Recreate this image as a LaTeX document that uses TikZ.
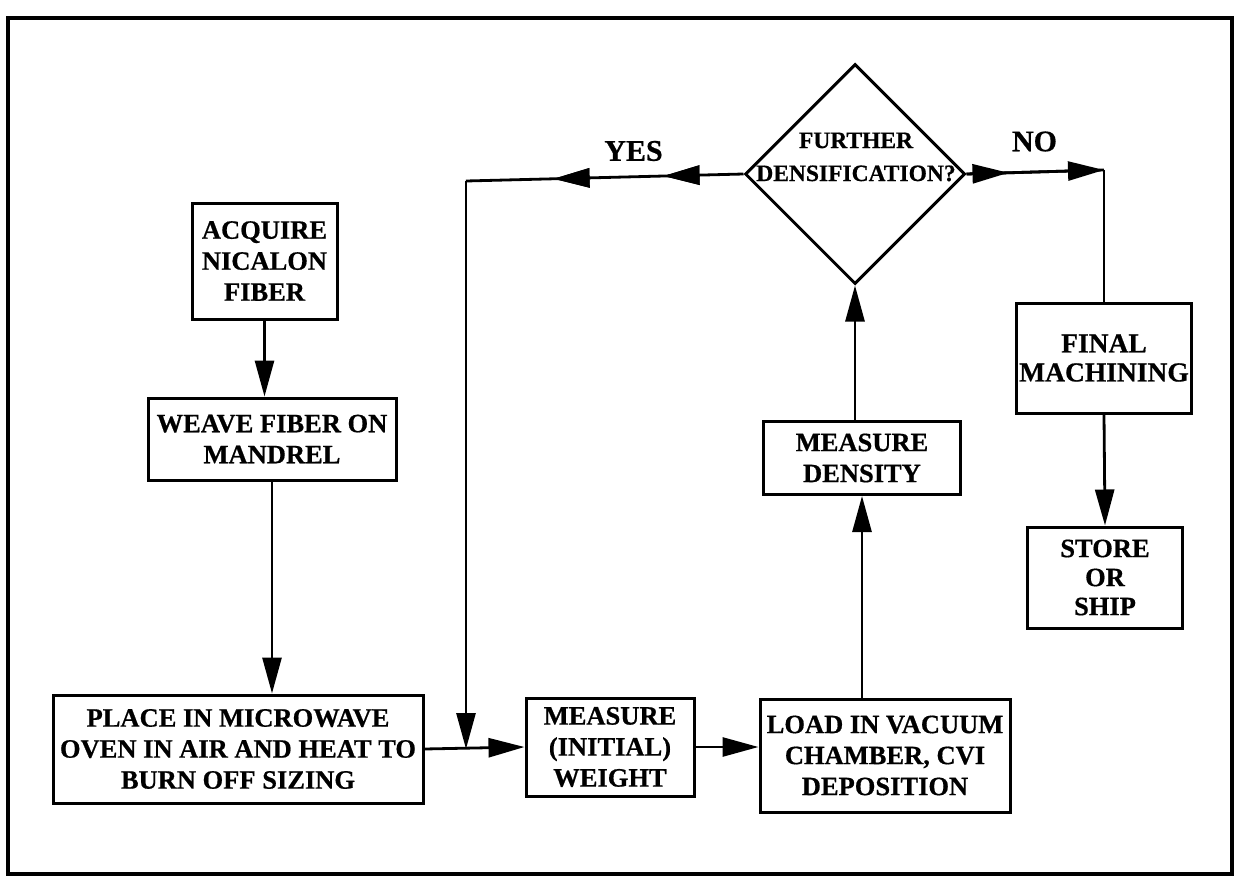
\documentclass[tikz,border=0pt]{standalone}
\usepackage{fontspec}
\setmainfont{Liberation Serif}[BoldFeatures={FakeBold=0.6}]
\usetikzlibrary{arrows.meta,shapes.geometric,decorations.markings}
\begin{document}
\begin{tikzpicture}[x=1pt,y=-1pt,
  stepbox/.style={draw,line width=3pt,inner sep=0pt,align=center,
    font=\bfseries\fontsize{26.5}{31}\selectfont},
  arr/.style={line width=2.8pt,-{Triangle[length=36pt,width=19pt]}},
  conn/.style={line width=2.8pt},
  lbl/.style={font=\bfseries\fontsize{30}{34}\selectfont,inner sep=0pt},
  midarrow/.style={postaction={decorate},decoration={markings,
    mark=at position #1 with {\arrow{Triangle[length=36pt,width=19pt]}}}}
]
\useasboundingbox (0,0) rectangle (1235,886);
\draw[line width=3.2pt] (8,18) rectangle (1232,874);

\node[stepbox,minimum width=145pt,minimum height=116pt] (acq) at (264.5,261) {ACQUIRE\\NICALON\\FIBER};
\node[stepbox,minimum width=248pt,minimum height=82pt] (weave) at (272,439) {WEAVE FIBER ON\\MANDREL};
\node[stepbox,minimum width=370pt,minimum height=108pt] (place) at (238,749) {PLACE IN MICROWAVE\\OVEN IN AIR AND HEAT TO\\BURN OFF SIZING};
\node[stepbox,minimum width=168pt,minimum height=98pt] (meas) at (610,747) {MEASURE\\(INITIAL)\\WEIGHT};
\node[stepbox,minimum width=250pt,minimum height=113pt] (load) at (885,755.5) {LOAD IN VACUUM\\CHAMBER, CVI\\DEPOSITION};
\node[stepbox,minimum width=197pt,minimum height=73pt] (dens) at (862,458) {MEASURE\\DENSITY};
\node[draw,line width=3pt,diamond,minimum width=220pt,minimum height=220pt,inner sep=0pt] (dia) at (855,174) {};
\node[align=center,inner sep=0pt,font=\bfseries\fontsize{23.5}{33}\selectfont] (diatext) at (856,157) {FURTHER\\DENSIFICATION?};
\node[stepbox,minimum width=175pt,minimum height=110pt,font=\bfseries\fontsize{27.5}{29}\selectfont] (final) at (1104,358) {FINAL\\MACHINING};
\node[stepbox,minimum width=155pt,minimum height=101pt,font=\bfseries\fontsize{26.5}{29}\selectfont] (store) at (1105,577.5) {STORE\\OR\\SHIP};

\node[lbl] (yes) at (633.5,151) {YES};
\node[lbl] (no) at (1034.5,141.5) {NO};

\coordinate (ycorner) at (466,181);
\coordinate (ncorner) at (1104,170);
\coordinate (join) at (466,749);

\draw[arr] (acq.south) -- (weave.north -| acq.south);
\draw[arr] (weave.south) -- (place.north -| weave.south);
\draw[arr] (place.east) -- (meas.west);
\draw[arr] (meas.east) -- (load.west |- meas.east);
\draw[arr] (dens.south |- load.north) -- (dens.south);
\draw[arr] (dia.south |- dens.north) -- (dia.south);
\draw[conn,midarrow=80pt,midarrow=190pt] (dia.west) -- (ycorner);
\draw[arr] (ycorner) -- (join);
\draw[conn,midarrow=42pt] (dia.east) -- (ncorner);
\draw[arr] (dia.east) -- (ncorner);
\draw[conn] (ncorner) -- (final.north);
\draw[arr] (final.south) -- (store.north);
\end{tikzpicture}
\end{document}
